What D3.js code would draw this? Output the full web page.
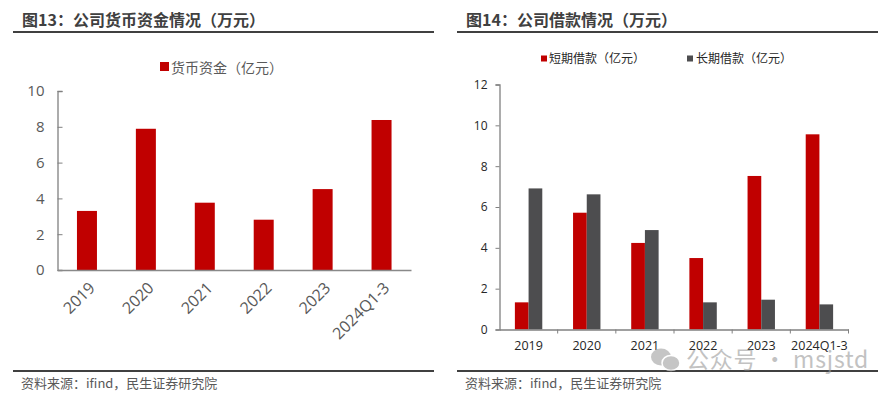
<!DOCTYPE html>
<html>
<head>
<meta charset="utf-8">
<script src="https://cdn.jsdelivr.net/npm/d3@7"></script>
<style>
	body { margin: 0; background: #fff; }
	svg { display: block; font-family: "Noto Sans CJK SC", "Microsoft YaHei", sans-serif; }
</style>
</head>
<body>
<svg width="895" height="397"></svg>
<script>
// 图13 data
var years = ["2019", "2020", "2021", "2022", "2023", "2024Q1-3"];
var cashValues = [3.3, 7.89, 3.76, 2.81, 4.52, 8.38];
var cashTicks = [0, 2, 4, 6, 8, 10];

// 图14 data
var shortLoans = [1.33, 5.72, 4.24, 3.5, 7.52, 9.56];
var longLoans = [6.91, 6.62, 4.87, 1.33, 1.46, 1.23];
var loanTicks = [0, 2, 4, 6, 8, 10, 12];

var red = "#c00000";
var darkGray = "#4d4d4f";
var textColor = "#404040";

var svg = d3.select("svg");

// headers and footers shared by both panels
function frame(x0, x1, title) {
	svg.append("text")
		.attr("x", x0 + 9).attr("y", 26)
		.attr("font-size", 16).attr("font-weight", "bold")
		.attr("fill", textColor)
		.text(title);
	svg.append("line")
		.attr("x1", x0).attr("x2", x1).attr("y1", 32).attr("y2", 32)
		.attr("stroke", "#404040").attr("stroke-width", 2);
	svg.append("line")
		.attr("x1", x0).attr("x2", x1).attr("y1", 371).attr("y2", 371)
		.attr("stroke", "#404040").attr("stroke-width", 2);
	svg.append("text")
		.attr("x", x0 + 8).attr("y", 388)
		.attr("font-size", 13).attr("fill", "#595959")
		.text("资料来源：ifind，民生证券研究院");
}

frame(13, 434, "图13：公司货币资金情况（万元）");
frame(457, 878, "图14：公司借款情况（万元）");

// ---- left chart ----
var left = svg.append("g");
var x1 = d3.scaleBand().domain(years).range([57.5, 411]);
var y1 = d3.scaleLinear().domain([0, 10]).range([270, 91]);

left.selectAll("rect.cash")
	.data(cashValues)
	.enter().append("rect")
	.attr("class", "cash")
	.attr("x", (d, i) => x1(years[i]) + x1.bandwidth() / 2 - 10)
	.attr("width", 20)
	.attr("y", d => y1(d))
	.attr("height", d => y1(0) - y1(d))
	.attr("fill", red);

var yAxis1 = left.append("g")
	.attr("transform", "translate(57.5,0)")
	.call(d3.axisRight(y1).tickValues(cashTicks).tickSize(5).tickFormat(d3.format("d")));
yAxis1.select(".domain").attr("stroke", "#808080").attr("stroke-width", 1.3);
yAxis1.selectAll(".tick line").attr("stroke", "#808080");
yAxis1.selectAll(".tick text")
	.attr("x", -13).attr("text-anchor", "end")
	.attr("font-size", 15).attr("fill", "#595959")
	.attr("font-family", "'Open Sans', sans-serif");

var xAxis1 = left.append("g")
	.attr("transform", "translate(0,270)")
	.call(d3.axisBottom(x1).tickSize(0));
xAxis1.select(".domain").attr("stroke", "#898989").attr("stroke-width", 1.6);
xAxis1.selectAll(".tick text")
	.attr("font-size", 16).attr("fill", "#595959")
	.attr("font-family", "'Open Sans', sans-serif")
	.attr("text-anchor", "end")
	.attr("transform", "translate(5,15) rotate(-45)")
	.attr("dy", "0.35em").attr("y", 0);

// legend
left.append("rect").attr("x", 160).attr("y", 62).attr("width", 9).attr("height", 9).attr("fill", red);
left.append("text").attr("x", 171).attr("y", 72.5)
	.attr("font-size", 14).attr("fill", "#595959")
	.text("货币资金（亿元）");

// ---- right chart ----
var right = svg.append("g");
var x2 = d3.scaleBand().domain(years).range([499.5, 848.5]);
var y2 = d3.scaleLinear().domain([0, 12]).range([329.5, 84.5]);
var barW = 13.7;

right.selectAll("rect.short")
	.data(shortLoans)
	.enter().append("rect")
	.attr("class", "short")
	.attr("x", (d, i) => x2(years[i]) + x2.bandwidth() / 2 - barW)
	.attr("width", barW)
	.attr("y", d => y2(d))
	.attr("height", d => y2(0) - y2(d))
	.attr("fill", red);

right.selectAll("rect.long")
	.data(longLoans)
	.enter().append("rect")
	.attr("class", "long")
	.attr("x", (d, i) => x2(years[i]) + x2.bandwidth() / 2)
	.attr("width", barW)
	.attr("y", d => y2(d))
	.attr("height", d => y2(0) - y2(d))
	.attr("fill", darkGray);

var yAxis2 = right.append("g")
	.attr("transform", "translate(499.5,0)")
	.call(d3.axisLeft(y2).tickValues(loanTicks).tickSize(4));
yAxis2.select(".domain").attr("stroke", "#808080").attr("stroke-width", 1.3);
yAxis2.selectAll(".tick line").attr("stroke", "#808080");
yAxis2.selectAll(".tick text")
	.attr("x", -12)
	.attr("font-size", 12).attr("fill", "#262626")
	.attr("font-family", "'Open Sans', sans-serif");

// x axis ticks sit at band edges
var xAxis2 = right.append("g")
	.attr("transform", "translate(0,329.5)")
	.call(d3.axisBottom(x2).tickSize(0));
xAxis2.select(".domain").attr("stroke", "#808080").attr("stroke-width", 1.3);
xAxis2.selectAll(".tick text")
	.attr("y", 12)
	.attr("font-size", 12.5).attr("fill", "#262626")
	.attr("font-family", "'Open Sans', sans-serif");
xAxis2.selectAll("line.edge")
	.data(years.slice(1).concat(["end"]))
	.enter().append("line")
	.attr("class", "edge")
	.attr("x1", (d, i) => x2.range()[0] + x2.step() * (i + 1))
	.attr("x2", (d, i) => x2.range()[0] + x2.step() * (i + 1))
	.attr("y1", 0).attr("y2", 4)
	.attr("stroke", "#808080");

// legend
right.append("rect").attr("x", 541).attr("y", 55.5).attr("width", 6).attr("height", 6).attr("fill", red);
right.append("text").attr("x", 549).attr("y", 63)
	.attr("font-size", 12).attr("fill", "#262626")
	.text("短期借款（亿元）");
right.append("rect").attr("x", 687).attr("y", 55.5).attr("width", 6).attr("height", 6).attr("fill", darkGray);
right.append("text").attr("x", 696).attr("y", 63)
	.attr("font-size", 12).attr("fill", "#262626")
	.text("长期借款（亿元）");

// watermark
var wm = svg.append("g").attr("opacity", 0.6);
wm.append("ellipse").attr("cx", 661).attr("cy", 357).attr("rx", 10).attr("ry", 8.5).attr("fill", "#a0a0a0");
wm.append("ellipse").attr("cx", 671).attr("cy", 363).attr("rx", 9).attr("ry", 7.5).attr("fill", "#a0a0a0").attr("stroke", "#fff").attr("stroke-width", 1.5);
wm.append("text").attr("x", 686).attr("y", 368)
	.attr("font-size", 23).attr("letter-spacing", 0.8).attr("fill", "#9a9a9a")
	.text("公众号 · msjstd");
</script>
</body>
</html>
